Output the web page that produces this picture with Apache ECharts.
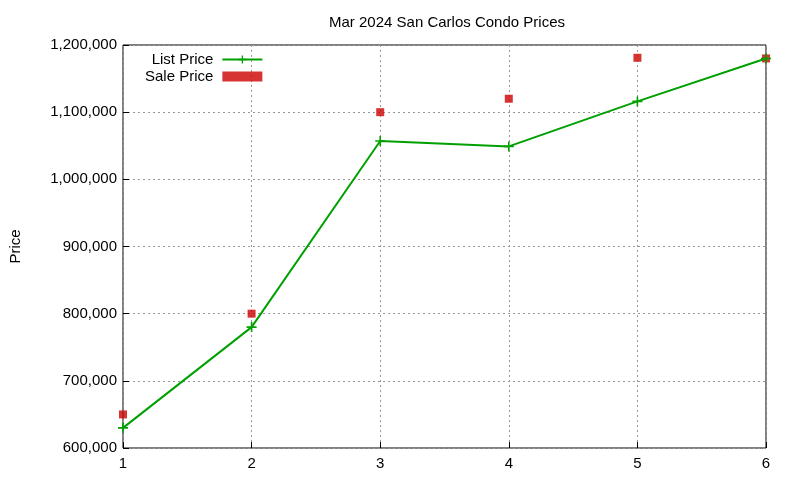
<!DOCTYPE html>
<html><head><meta charset="utf-8">
<script src="https://cdn.jsdelivr.net/npm/echarts@6/dist/echarts.min.js"></script>
<style>html,body{margin:0;padding:0;background:#fff}#c{width:800px;height:480px}</style>
</head><body><div id="c"></div>
<script>
var months = [1, 2, 3, 4, 5, 6];
var listPrice = [630000, 780000, 1057000, 1049000, 1116000, 1180000];
var salePrice = [650000, 800000, 1100000, 1120000, 1181000, 1180000];
var yTicks = [600000, 1200000, 100000];

var plus = 'path://M4.2,0H5.8V4.2H10V5.8H5.8V10H4.2V5.8H0V4.2H4.2Z';
var font = 'Liberation Sans, Arial, sans-serif';
var chart = echarts.init(document.getElementById('c'));
chart.setOption({
  animation: false,
  textStyle: {fontFamily: font},
  title: {text: 'Mar 2024 San Carlos Condo Prices', left: 442, textAlign: 'center', top: 10,
    textStyle: {fontSize: 15, fontWeight: 'normal', color: '#000', fontFamily: font}},
  legend: {orient: 'vertical', left: 140, top: 47, align: 'right', itemGap: 2, itemWidth: 40, itemHeight: 10,
    textStyle: {fontSize: 15, color: '#000', fontFamily: font, padding: [0, 4, 0, 0]},
    data: [{name: 'List Price'}, {name: 'Sale Price'}]},
  grid: {left: 118, right: 34, top: 45, bottom: 32, show: true, borderColor: '#000', borderWidth: 1},
  xAxis: {type: 'value', min: 1, max: 6, interval: 1,
    axisLine: {show: false}, axisTick: {inside: true, length: 6, lineStyle: {color: '#000'}},
    axisLabel: {fontSize: 15, color: '#000', margin: 8},
    splitLine: {show: true, lineStyle: {color: '#999', type: [2, 3]}}},
  yAxis: {type: 'value', min: yTicks[0], max: yTicks[1], interval: yTicks[2],
    name: 'Price', nameLocation: 'middle', nameGap: 100, nameRotate: 90,
    nameTextStyle: {fontSize: 15, color: '#000', fontFamily: font},
    axisLine: {show: false}, axisTick: {inside: true, length: 6, lineStyle: {color: '#000'}},
    axisLabel: {fontSize: 15, color: '#000', margin: 6},
    splitLine: {show: true, lineStyle: {color: '#999', type: [2, 3]}}},
  series: [
    {name: 'List Price', type: 'line', data: months.map(function(m, i){return [m, listPrice[i]];}),
      symbol: plus, symbolSize: 10, showAllSymbol: true,
      lineStyle: {color: '#00a000', width: 2}, itemStyle: {color: '#00a000'}},
    {name: 'Sale Price', type: 'scatter', data: months.map(function(m, i){return [m, salePrice[i]];}),
      symbol: 'rect', symbolSize: 8, itemStyle: {color: '#cc0000'}}
  ]
});
</script></body></html>
